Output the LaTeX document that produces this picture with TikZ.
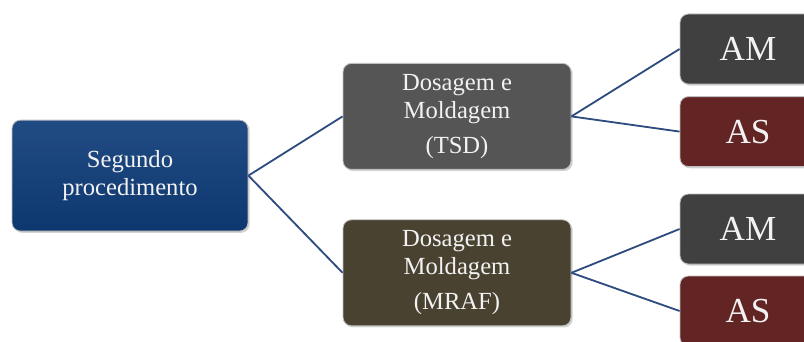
\documentclass[tikz,border=0pt]{standalone}
\usepackage{fontspec}
\setmainfont{Liberation Serif}
\usetikzlibrary{positioning,shadows}
\definecolor{linkblue}{HTML}{2E4C7E}
\definecolor{rootblue}{HTML}{0E3C78}
\definecolor{tsdgray}{HTML}{555555}
\definecolor{mrafolive}{HTML}{4A4230}
\definecolor{amgray}{HTML}{404040}
\definecolor{asred}{HTML}{632523}
\tikzset{
    box/.style={
        rectangle,
        rounded corners=6pt,
        draw=white!75!black, % borda clara
        line width=0.6pt,
        text=white!95!black,
        align=center,
        inner sep=0,
        drop shadow={shadow xshift=1.2pt, shadow yshift=-1.2pt, opacity=0.35}
    },
    rootbox/.style={
        box,
        top color=rootblue!92!white,
        bottom color=rootblue!92!black,
        minimum width=5.9cm,
        minimum height=2.775cm,
        font=\fontsize{17.5}{20}\selectfont
    },
    midbox/.style={
        box,
        minimum width=5.7cm,
        minimum height=2.65cm,
        font=\fontsize{17.5}{20}\selectfont
    },
    leafbox/.style={
        box,
        minimum width=3.4cm,
        minimum height=1.75cm,
        font=\fontsize{25}{28}\selectfont
    },
    link/.style={
        draw=linkblue,
        line width=1.3pt
    }
}

\begin{document}
\begin{tikzpicture}
    \useasboundingbox (0,0) rectangle (20.1,-8.55);
    % raiz
    \node[rootbox] (root) at (3.25,-4.39) {Segundo\\procedimento};
    % segundo nivel
    \node[midbox, fill=tsdgray] (tsd) at (11.425,-2.91)
        {Dosagem e\\Moldagem\\[5pt](TSD)};
    \node[midbox, fill=mrafolive] (mraf) at (11.425,-6.82)
        {Dosagem e\\Moldagem\\[5pt](MRAF)};
    % folhas
    \node[leafbox, fill=amgray] (am1) at (18.7,-1.225) {AM};
    \node[leafbox, fill=asred] (as1) at (18.7,-3.29) {AS};
    \node[leafbox, fill=amgray] (am2) at (18.7,-5.725) {AM};
    \node[leafbox, fill=asred] (as2) at (18.7,-7.775) {AS};
    % ligacoes
    \draw[link] (root.east) -- (tsd.west);
    \draw[link] (root.east) -- (mraf.west);
    \draw[link] (tsd.east) -- (am1.west);
    \draw[link] (tsd.east) -- (as1.west);
    \draw[link] (mraf.east) -- (am2.west);
    \draw[link] (mraf.east) -- (as2.west);
\end{tikzpicture}
\end{document}
